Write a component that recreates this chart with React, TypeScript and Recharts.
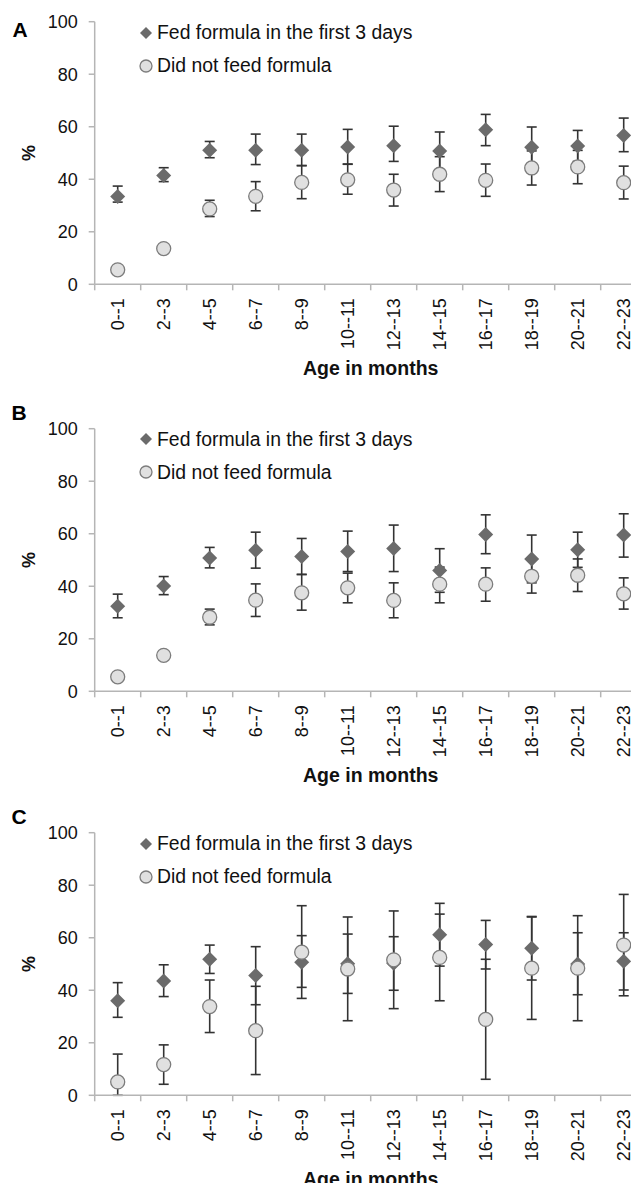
import React from "react";
import { ComposedChart, Scatter, ErrorBar, XAxis, YAxis, Label } from "recharts";

const categories = ["0--1", "2--3", "4--5", "6--7", "8--9", "10--11", "12--13", "14--15", "16--17", "18--19", "20--21", "22--23"];
const yTicks = [0, 20, 40, 60, 80, 100];
const xTicks = [0, 1, 2, 3, 4, 5, 6, 7, 8, 9, 10, 11, 12];
const seriesNames = ["Fed formula in the first 3 days", "Did not feed formula"];

// Panel A
const fedA = [33.4, 41.4, 51.0, 51.0, 51.0, 52.3, 52.8, 50.8, 58.9, 52.2, 52.7, 56.7];
const fedLoA = [31.3, 39.1, 48.2, 45.6, 45.2, 45.7, 46.8, 43.6, 52.8, 44.5, 46.8, 50.5];
const fedHiA = [37.4, 44.4, 54.4, 57.2, 57.2, 59.0, 60.2, 58.0, 64.7, 59.9, 58.6, 63.3];
const notFedA = [5.5, 13.6, 28.7, 33.5, 38.8, 39.8, 35.9, 41.9, 39.6, 44.3, 44.7, 38.7];
const notFedLoA = [4.5, 12.5, 25.8, 28.0, 32.6, 34.3, 29.8, 35.3, 33.5, 37.8, 38.3, 32.5];
const notFedHiA = [6.5, 14.7, 32.0, 39.1, 45.2, 45.8, 41.9, 48.6, 45.8, 50.8, 51.0, 45.0];

// Panel B
const fedB = [32.4, 40.1, 50.8, 53.7, 51.3, 53.2, 54.4, 46.0, 59.7, 50.4, 53.9, 59.5];
const fedLoB = [28.0, 36.8, 47.0, 46.9, 44.5, 45.6, 45.6, 37.7, 52.4, 41.3, 47.2, 51.1];
const fedHiB = [37.0, 43.7, 54.8, 60.6, 58.2, 61.0, 63.3, 54.3, 67.2, 59.5, 60.6, 67.6];
const notFedB = [5.5, 13.7, 28.2, 34.7, 37.5, 39.4, 34.6, 40.8, 40.8, 43.8, 44.2, 37.1];
const notFedLoB = [4.5, 12.7, 25.3, 28.5, 30.9, 33.7, 28.0, 33.7, 34.3, 37.4, 38.0, 31.3];
const notFedHiB = [6.5, 14.7, 31.3, 40.9, 44.5, 45.0, 41.3, 47.3, 47.0, 50.2, 50.4, 43.2];

// Panel C
const fedC = [36.0, 43.5, 51.8, 45.6, 50.7, 50.1, 50.3, 61.1, 57.4, 56.0, 50.0, 51.0];
const fedLoC = [29.7, 37.6, 46.4, 34.5, 41.1, 38.8, 40.0, 49.2, 48.1, 43.9, 38.3, 40.1];
const fedHiC = [42.9, 49.7, 57.2, 56.6, 60.8, 61.4, 60.4, 73.1, 66.6, 68.1, 61.9, 61.9];
const notFedC = [5.1, 11.7, 33.8, 24.6, 54.5, 48.1, 51.6, 52.5, 28.9, 48.4, 48.4, 57.2];
const notFedLoC = [0, 4.2, 23.9, 7.9, 36.9, 28.4, 33.0, 36.0, 6.1, 28.9, 28.4, 37.9];
const notFedHiC = [15.7, 19.2, 43.9, 41.5, 72.2, 67.9, 70.2, 69.0, 51.8, 67.9, 68.4, 76.5];

const FONT = "'Liberation Sans', Arial, sans-serif";
const AXIS_COLOR = "#b5b5b5";
const BAR_COLOR = "#333";
const DIAMOND_FILL = "#6b6b6b";
const CIRCLE_FILL = "#e0e0e0";
const CIRCLE_STROKE = "#7c7c7c";

const CHART_W = 655;
const CHART_H = 405;
const Y_AXIS_W = 94.7;
const X_AXIS_H = 120.7;
const MARGIN = { top: 21.7, right: 8.3, bottom: 0, left: 0 };
const HALF_BAND = 552 / 12 / 2;

function buildRows(fed: number[], fedLo: number[], fedHi: number[], nf: number[], nfLo: number[], nfHi: number[]) {
  return categories.map((c, i) => ({
    x: i + 0.5,
    name: c,
    fed: fed[i],
    fedErr: [fed[i] - fedLo[i], fedHi[i] - fed[i]],
    notFed: nf[i],
    notFedErr: [nf[i] - nfLo[i], nfHi[i] - nf[i]],
  }));
}

const Diamond = ({ cx, cy, r = 7.5 }: any) => (
  <path d={`M${cx},${cy - r}L${cx + r},${cy}L${cx},${cy + r}L${cx - r},${cy}Z`} fill={DIAMOND_FILL} />
);

const Circle = ({ cx, cy, r = 7 }: any) => (
  <circle cx={cx} cy={cy} r={r} fill={CIRCLE_FILL} stroke={CIRCLE_STROKE} strokeWidth={1.3} />
);

// invisible points, only used to carry the error bars
const NoMark = () => <g />;

const AgeTick = ({ x, y, payload }: any) => {
  const i = payload.value;
  if (i >= categories.length) return null;
  const px = x + HALF_BAND;
  return (
    <text
      x={px}
      y={y}
      transform={`rotate(-90, ${px}, ${y})`}
      textAnchor="end"
      dominantBaseline="central"
      fontSize={18}
      fontFamily={FONT}
      fill="#111"
    >
      {categories[i]}
    </text>
  );
};

const LegendBox = ({ style }: any) => (
  <div style={{ position: "absolute", fontFamily: FONT, fontSize: 19.4, color: "#111", whiteSpace: "nowrap", ...style }}>
    {seriesNames.map((label, i) => (
      <div key={label} style={{ height: 33, display: "flex", alignItems: "center" }}>
        <svg width={16} height={16} style={{ marginRight: 2 }}>
          {i === 0 ? <Diamond cx={7} cy={8} r={6} /> : <Circle cx={7} cy={8} r={6} />}
        </svg>
        <span>{label}</span>
      </div>
    ))}
  </div>
);

function Panel({ letter, top, letterStyle, rows }: any) {
  return (
    <div style={{ position: "absolute", left: 0, top, width: CHART_W, height: CHART_H }}>
      {/* axes + error bars */}
      <div style={{ position: "absolute", left: 0, top: 0 }}>
        <ComposedChart width={CHART_W} height={CHART_H} data={rows} margin={MARGIN}>
          <XAxis
            dataKey="x"
            type="number"
            domain={[0, 12]}
            ticks={xTicks}
            interval={0}
            height={X_AXIS_H}
            tickSize={6}
            tickMargin={8}
            tick={<AgeTick />}
            axisLine={{ stroke: AXIS_COLOR, strokeWidth: 1.5 }}
            tickLine={{ stroke: AXIS_COLOR, strokeWidth: 1.5 }}
          >
            <Label
              content={({ viewBox }: any) => (
                <text
                  x={viewBox.x + viewBox.width / 2}
                  y={viewBox.y + 90.5}
                  textAnchor="middle"
                  fontSize={19.5}
                  fontWeight="bold"
                  fontFamily={FONT}
                  fill="#111"
                >
                  Age in months
                </text>
              )}
            />
          </XAxis>
          <YAxis
            type="number"
            domain={[0, 100]}
            ticks={yTicks}
            width={Y_AXIS_W}
            tickSize={6}
            tickMargin={11}
            tick={{ fontSize: 18, fontFamily: FONT, fill: "#111" }}
            axisLine={{ stroke: AXIS_COLOR, strokeWidth: 1.5 }}
            tickLine={{ stroke: AXIS_COLOR, strokeWidth: 1.5 }}
          >
            <Label
              content={({ viewBox }: any) => {
                const cy = viewBox.y + viewBox.height / 2;
                return (
                  <text
                    x={29}
                    y={cy}
                    transform={`rotate(-90, 29, ${cy})`}
                    textAnchor="middle"
                    dominantBaseline="central"
                    fontSize={18}
                    fontWeight="bold"
                    fontFamily={FONT}
                    fill="#111"
                  >
                    %
                  </text>
                );
              }}
            />
          </YAxis>
          <Scatter dataKey="fed" shape={<NoMark />} isAnimationActive={false} legendType="none">
            <ErrorBar dataKey="fedErr" direction="y" width={5} stroke={BAR_COLOR} strokeWidth={1.6} isAnimationActive={false} />
          </Scatter>
          <Scatter dataKey="notFed" shape={<NoMark />} isAnimationActive={false} legendType="none">
            <ErrorBar dataKey="notFedErr" direction="y" width={5} stroke={BAR_COLOR} strokeWidth={1.6} isAnimationActive={false} />
          </Scatter>
        </ComposedChart>
      </div>
      {/* markers on top, same plot box */}
      <div style={{ position: "absolute", left: 0, top: 0 }}>
        <ComposedChart
          width={CHART_W}
          height={CHART_H}
          data={rows}
          margin={{ top: MARGIN.top, right: MARGIN.right, bottom: X_AXIS_H, left: Y_AXIS_W }}
        >
          <XAxis dataKey="x" type="number" domain={[0, 12]} hide />
          <YAxis type="number" domain={[0, 100]} hide />
          <Scatter dataKey="fed" name={seriesNames[0]} shape={<Diamond />} isAnimationActive={false} />
          <Scatter dataKey="notFed" name={seriesNames[1]} shape={<Circle />} isAnimationActive={false} />
        </ComposedChart>
      </div>
      <LegendBox style={{ left: 139, top: 16.2 }} />
      <div style={{ position: "absolute", fontFamily: FONT, fontWeight: "bold", fontSize: 21, lineHeight: 1, ...letterStyle }}>
        {letter}
      </div>
    </div>
  );
}

export default function App() {
  return (
    <div style={{ position: "relative", margin: -8, width: 639, height: 1191, overflow: "hidden", background: "#fff" }}>
      <Panel
        letter="A"
        top={0}
        letterStyle={{ left: 12.5, top: 19 }}
        rows={buildRows(fedA, fedLoA, fedHiA, notFedA, notFedLoA, notFedHiA)}
      />
      <Panel
        letter="B"
        top={406.6}
        letterStyle={{ left: 11.5, top: -4.5 }}
        rows={buildRows(fedB, fedLoB, fedHiB, notFedB, notFedLoB, notFedHiB)}
      />
      <Panel
        letter="C"
        top={811}
        letterStyle={{ left: 11.5, top: -5.5 }}
        rows={buildRows(fedC, fedLoC, fedHiC, notFedC, notFedLoC, notFedHiC)}
      />
    </div>
  );
}
